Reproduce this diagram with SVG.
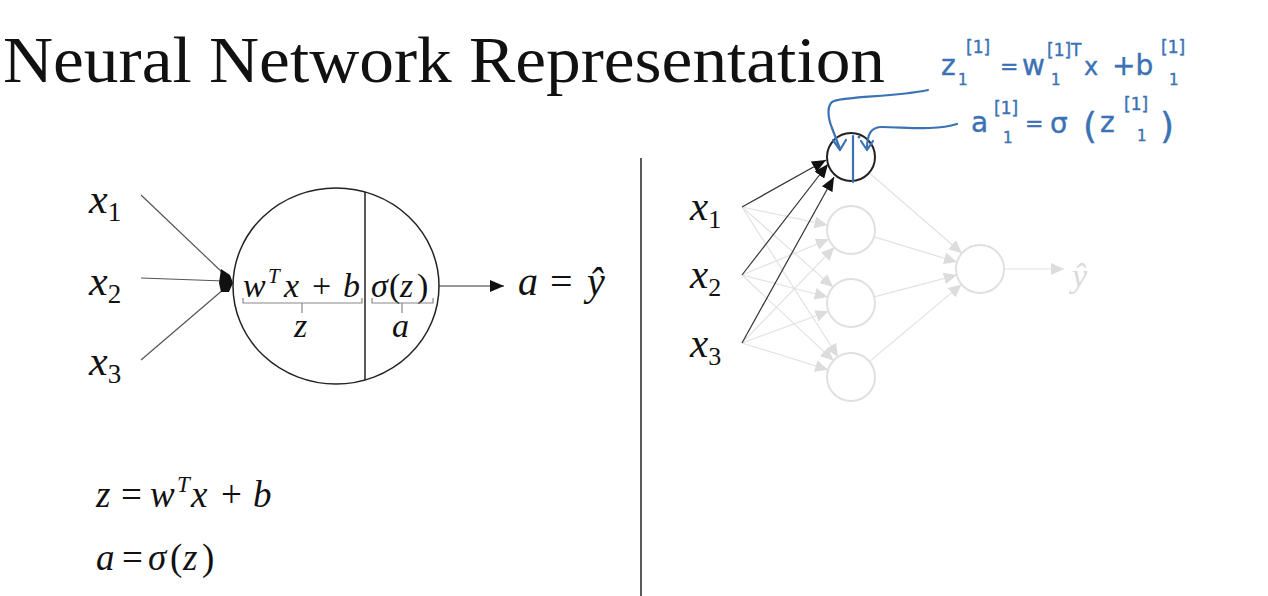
<svg xmlns="http://www.w3.org/2000/svg" width="1268" height="596" viewBox="0 0 1268 596">
  <style>
    .title { font-family: "Liberation Serif", "Times New Roman", serif; font-size: 65px; fill: #111; }
    .mi { font-family: "Liberation Serif", serif; font-style: italic; fill: #111; }
    .mr { font-family: "Liberation Serif", serif; font-style: normal; fill: #111; }
    .sub { font-family: "Liberation Serif", serif; font-style: normal; }
    .dark { stroke: #555; stroke-width: 1.2; fill: none; }
    .light { stroke: #e2e2e2; stroke-width: 1.2; fill: none; }
    .lnode { fill: none; stroke: #e0e0e0; stroke-width: 2; }
    .ink { fill: none; stroke: #3b72b4; stroke-width: 2.2; stroke-linecap: round; stroke-linejoin: round; }
    .hand { font-family: "DejaVu Sans", "Noto Sans", sans-serif; fill: #3b72b4; stroke: #3b72b4; stroke-width: 0.4; }
  </style>
  <defs>
    <marker id="ah" markerUnits="userSpaceOnUse" markerWidth="14" markerHeight="12" refX="14" refY="6" orient="auto">
      <path d="M0,0 L14,6 L0,12 z" fill="#111"/>
    </marker>
    <marker id="ahg" markerUnits="userSpaceOnUse" markerWidth="13" markerHeight="12" refX="13" refY="6" orient="auto">
      <path d="M0,0 L13,6 L0,12 z" fill="#dcdcdc"/>
    </marker>
  </defs>
  <rect width="1268" height="596" fill="#fff"/>

  <text class="title" x="3" y="82" textLength="882" lengthAdjust="spacingAndGlyphs">Neural Network Representation</text>

  <!-- left: single neuron -->
  <g id="connectors-left">
    <line class="dark" x1="141" y1="195" x2="224" y2="274"/>
    <line class="dark" x1="141" y1="278" x2="224" y2="281"/>
    <line class="dark" x1="141" y1="360" x2="224" y2="289"/>
    <polygon points="221,269 230,275 233,283 229,292 221,292 219,283" fill="#111"/>
    <line x1="439" y1="286" x2="504" y2="286" stroke="#333" stroke-width="1.2" marker-end="url(#ah)"/>
  </g>

  <g id="x1-left"><text class="mi" x="89" y="213" font-size="42">x<tspan class="sub" dy="8" font-size="27">1</tspan></text></g>
  <g id="x2-left"><text class="mi" x="89" y="295" font-size="42">x<tspan class="sub" dy="8" font-size="27">2</tspan></text></g>
  <g id="x3-left"><text class="mi" x="89" y="375" font-size="42">x<tspan class="sub" dy="8" font-size="27">3</tspan></text></g>

  <g id="neuron">
    <ellipse cx="336" cy="286" rx="103" ry="98" fill="none" stroke="#222" stroke-width="1.5"/>
    <line x1="365" y1="192" x2="365" y2="380" stroke="#222" stroke-width="1.5"/>
    <text font-size="34">
      <tspan class="mi" x="243" y="297">w</tspan><tspan class="mi" x="268" y="283" font-size="21">T</tspan><tspan class="mi" x="284" y="297">x</tspan><tspan class="mr" x="312" y="297">+</tspan><tspan class="mi" x="343" y="297">b</tspan>
      <tspan class="mi" x="371" y="297">σ</tspan><tspan class="mr" x="389" y="297">(</tspan><tspan class="mi" x="400" y="297">z</tspan><tspan class="mr" x="417" y="297">)</tspan>
    </text>
    <path d="M243,298 L243,303 L362,303 L362,298 M302,303 L302,313" fill="none" stroke="#888" stroke-width="1.2"/>
    <path d="M372,298 L372,303 L433,303 L433,298 M402,303 L402,313" fill="none" stroke="#888" stroke-width="1.2"/>
    <text class="mi" x="294" y="337" font-size="34">z</text>
    <text class="mi" x="392" y="337" font-size="34">a</text>
  </g>

  <g id="output-left">
    <text font-size="40"><tspan class="mi" x="518" y="295">a</tspan><tspan class="mr" x="550" y="295">=</tspan><tspan class="mi" x="587" y="295">ŷ</tspan></text>
  </g>

  <g id="equations">
    <text font-size="37"><tspan class="mi" x="96" y="507">z</tspan><tspan class="mr" x="121" y="507">=</tspan><tspan class="mi" x="150" y="507">w</tspan><tspan class="mi" x="177" y="492" font-size="23">T</tspan><tspan class="mi" x="191" y="507">x</tspan><tspan class="mr" x="221" y="507">+</tspan><tspan class="mi" x="253" y="507">b</tspan></text>
    <text font-size="37"><tspan class="mi" x="96" y="570">a</tspan><tspan class="mr" x="122" y="570">=</tspan><tspan class="mi" x="148" y="570">σ</tspan><tspan class="mr" x="170" y="570">(</tspan><tspan class="mi" x="183" y="570">z</tspan><tspan class="mr" x="202" y="570">)</tspan></text>
  </g>

  <g id="divider"><line x1="641" y1="158" x2="641" y2="596" stroke="#222" stroke-width="1.5"/></g>

  <!-- right: network -->
  <g id="connectors-right">
    <line class="light" x1="742" y1="207" x2="827.5" y2="225.1" marker-end="url(#ahg)"/>
    <line class="light" x1="742" y1="207" x2="833" y2="287.1" marker-end="url(#ahg)"/>
    <line class="light" x1="742" y1="207" x2="838" y2="356.8" marker-end="url(#ahg)"/>
    <line class="light" x1="742" y1="275" x2="828.8" y2="239.2" marker-end="url(#ahg)"/>
    <line class="light" x1="742" y1="275" x2="827.7" y2="297" marker-end="url(#ahg)"/>
    <line class="light" x1="742" y1="275" x2="833.5" y2="360.6" marker-end="url(#ahg)"/>
    <line class="light" x1="742" y1="343" x2="834.3" y2="247.3" marker-end="url(#ahg)"/>
    <line class="light" x1="742" y1="343" x2="828.5" y2="311.3" marker-end="url(#ahg)"/>
    <line class="light" x1="742" y1="343" x2="828.1" y2="369.8" marker-end="url(#ahg)"/>
    <line class="light" x1="869.1" y1="172.7" x2="961.9" y2="253.3" marker-end="url(#ahg)"/>
    <line class="light" x1="874" y1="236.9" x2="957" y2="262.1" marker-end="url(#ahg)"/>
    <line class="light" x1="874.2" y1="296.9" x2="956.8" y2="275.1" marker-end="url(#ahg)"/>
    <line class="light" x1="869.4" y1="361.6" x2="961.6" y2="284.4" marker-end="url(#ahg)"/>
    <line class="light" x1="1004" y1="269" x2="1064" y2="269" marker-end="url(#ahg)"/>
    <line x1="742" y1="207" x2="826" y2="160" stroke="#333" stroke-width="1.2" marker-end="url(#ah)"/>
    <line x1="742" y1="275" x2="828" y2="164" stroke="#333" stroke-width="1.2" marker-end="url(#ah)"/>
    <line x1="742" y1="343" x2="834" y2="177" stroke="#333" stroke-width="1.2" marker-end="url(#ah)"/>
  </g>

  <g id="x1-right"><text class="mi" x="690" y="220" font-size="41">x<tspan class="sub" dy="8" font-size="26">1</tspan></text></g>
  <g id="x2-right"><text class="mi" x="690" y="288" font-size="41">x<tspan class="sub" dy="8" font-size="26">2</tspan></text></g>
  <g id="x3-right"><text class="mi" x="690" y="357" font-size="41">x<tspan class="sub" dy="8" font-size="26">3</tspan></text></g>

  <g id="node-h1"><circle cx="851" cy="157" r="24" fill="none" stroke="#222" stroke-width="2"/></g>
  <g id="node-h2"><circle class="lnode" cx="851" cy="230" r="24"/></g>
  <g id="node-h3"><circle class="lnode" cx="851" cy="303" r="24"/></g>
  <g id="node-h4"><circle class="lnode" cx="851" cy="377" r="24"/></g>
  <g id="node-out"><circle class="lnode" cx="980" cy="269" r="24"/></g>
  <g id="yhat-right"><text class="mi" x="1072" y="287" font-size="34" style="fill:#dadada">ŷ</text></g>

  <!-- handwritten annotation -->
  <g id="annotation">
    <path class="ink" d="M928,90 C 895,97 850,96 834,101 C 826,104 828,118 832,128 L 840,149"/>
    <path class="ink" d="M833,140 L840,150 L846,140"/>
    <path class="ink" d="M957,124 C 935,131 905,127 882,127 C 871,127 867,134 867,149"/>
    <path class="ink" d="M861,141 L867,150 L873,141"/>
    <path class="ink" d="M853,136 L853,182"/>
    <circle cx="859" cy="137" r="1.5" fill="#3b72b4"/>
    <text class="hand" font-size="28">
      <tspan x="941" y="75">z</tspan><tspan x="966" y="53" font-size="17">[1]</tspan><tspan x="958" y="85" font-size="15">1</tspan>
      <tspan x="1000" y="74" font-size="22">=</tspan>
      <tspan x="1022" y="75">w</tspan><tspan x="1047" y="56" font-size="17">[1]T</tspan><tspan x="1051" y="85" font-size="15">1</tspan>
      <tspan x="1084" y="75" font-size="24">x</tspan>
      <tspan x="1112" y="75">+b</tspan><tspan x="1161" y="53" font-size="17">[1]</tspan><tspan x="1169" y="85" font-size="15">1</tspan>
    </text>
    <text class="hand" font-size="28">
      <tspan x="971" y="132">a</tspan><tspan x="994" y="114" font-size="17">[1]</tspan><tspan x="1003" y="143" font-size="15">1</tspan>
      <tspan x="1025" y="131" font-size="22">=</tspan>
      <tspan x="1050" y="133">σ</tspan>
      <tspan x="1083" y="138" font-size="36">(</tspan>
      <tspan x="1100" y="132">z</tspan><tspan x="1124" y="110" font-size="17">[1]</tspan><tspan x="1137" y="141" font-size="15">1</tspan>
      <tspan x="1160" y="138" font-size="36">)</tspan>
    </text>
  </g>
</svg>
